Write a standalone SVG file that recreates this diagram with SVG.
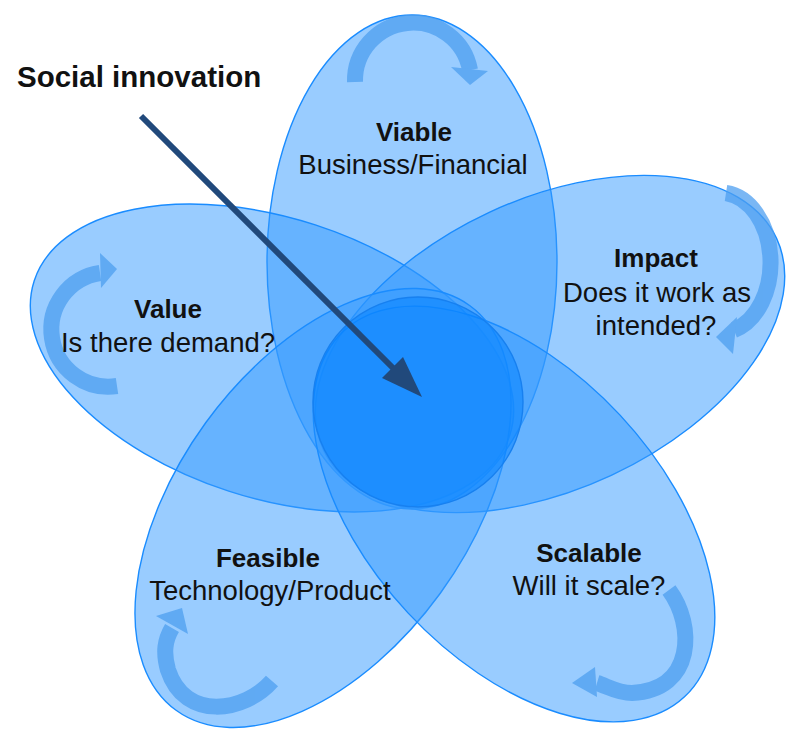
<svg xmlns="http://www.w3.org/2000/svg" width="792" height="730" viewBox="0 0 792 730">
<style>
.petal{fill:#3399ff;fill-opacity:0.5;stroke:#1a8cff;stroke-width:1.4}
.core{fill:#0080ff;fill-opacity:0.5;stroke:#1780f0;stroke-width:1.4}
.band{fill:none;stroke:#4d9ff0;stroke-width:16}
.head{fill:#4d9ff0}
.t{font-family:"Liberation Sans",Arial,sans-serif;fill:#111;text-anchor:middle}
.b{font-weight:bold;font-size:26px}
.r{font-size:27.5px}
</style>
<rect width="792" height="730" fill="#ffffff"/>
<g id="petals">
  <g id="viable-shape"><ellipse class="petal" cx="412" cy="262" rx="145" ry="247"/></g>
  <g id="value-shape"><ellipse class="petal" cx="272" cy="358" rx="140" ry="250" transform="rotate(-72 272 358)"/></g>
  <g id="impact-shape"><ellipse class="petal" cx="550" cy="344" rx="145" ry="250" transform="rotate(65 550 344)"/></g>
  <g id="feasible-shape"><ellipse class="petal" cx="323" cy="508" rx="145" ry="250" transform="rotate(216 323 508)"/></g>
  <g id="scalable-shape"><ellipse class="petal" cx="514" cy="514" rx="145" ry="250" transform="rotate(137 514 514)"/></g>
</g>
<g id="cycle-arrows" opacity="0.75">
  <g id="viable-cycle"><path class="band" d="M 355 82 A 58 58 0 0 1 470 70"/><polygon class="head" points="451,67 488,71 470,85"/></g>
  <g id="value-cycle"><path class="band" d="M 117 386 A 57 57 0 0 1 100 273"/><polygon class="head" points="100,253 117,269 101,288"/></g>
  <g id="impact-cycle"><path class="band" d="M 726 193 A 50 70 0 0 1 734 330"/><polygon class="head" points="737,317 733,354 716,337"/></g>
  <g id="feasible-cycle"><path class="band" d="M 272 681 C 245 712, 185 722, 168 670 C 163 652, 165 640, 172 628"/><polygon class="head" points="156,616 182,608 188,634"/></g>
  <g id="scalable-cycle"><path class="band" d="M 669 590 C 695 625, 695 690, 632 693 C 618 693, 607 686, 597 683"/><polygon class="head" points="595,667 572,683 597,697"/></g>
</g>
<g id="center"><circle class="core" cx="418" cy="402" r="105"/></g>
<g id="labels">
  <g id="viable"><text class="t b" x="414" y="141">Viable</text><text class="t r" x="413" y="174">Business/Financial</text></g>
  <g id="value"><text class="t b" x="168" y="318">Value</text><text class="t r" x="168" y="352">Is there demand?</text></g>
  <g id="impact"><text class="t b" x="656" y="267">Impact</text><text class="t r" x="657" y="302">Does it work as</text><text class="t r" x="656" y="335">intended?</text></g>
  <g id="feasible"><text class="t b" x="268" y="567">Feasible</text><text class="t r" x="270" y="600">Technology/Product</text></g>
  <g id="scalable"><text class="t b" x="589" y="562">Scalable</text><text class="t r" x="589" y="595">Will it scale?</text></g>
</g>
<g id="social-innovation">
  <text x="17" y="87" style="font-family:'Liberation Sans',Arial,sans-serif;font-weight:bold;font-size:29.5px;fill:#111">Social innovation</text>
</g>
<g id="connectors">
  <line x1="141" y1="116" x2="395" y2="370" stroke="#21497b" stroke-width="6"/>
  <polygon points="422,397 382,378 403,357" fill="#21497b"/>
</g>
</svg>
